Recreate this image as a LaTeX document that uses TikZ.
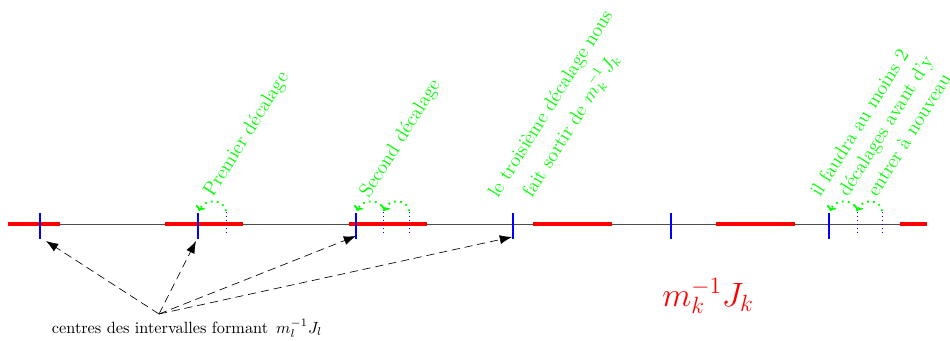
\documentclass[tikz,border=0pt]{standalone}
\usepackage{fontspec}
\usetikzlibrary{arrows.meta}
\begin{document}
\begin{tikzpicture}[x=0.614pt,y=-0.614pt,
  axis/.style={draw=black!70, line width=0.5pt},
  interval/.style={draw=red, line width=2.4pt},
  centre/.style={draw=blue, line width=1.2pt},
  shiftline/.style={draw=blue, dotted, line width=0.5pt},
  shiftarrow/.style={draw=green, line width=1.1pt, dash pattern=on 1.1pt off 2.6pt, -{To[length=3pt,width=6pt]}},
  note/.style={text=green, font=\large, rotate=58, inner sep=0pt, anchor=base west},
  pointer/.style={dash pattern=on 5pt off 3pt, -{Latex[length=7.5pt,width=5.5pt]}}]
\useasboundingbox (0,0) rectangle (950,340);
% axis
\coordinate (L) at (8,224);
\coordinate (R) at (925,224);
\draw[axis] (L) -- (R);
% intervals
\foreach \a/\b in {8/60,165/243,349/427,533/612,716/795,900/927}
  \draw[interval] (\a,224) -- (\b,224);
% centres
\foreach \i/\x in {1/40,2/198,3/356,4/513,5/671,6/829}{
  \coordinate (c\i) at (\x,239);
  \draw[centre] (\x,213) -- (\x,239);
}
% shifted positions
\foreach \x in {226,383,409,857,882}
  \draw[shiftline] (\x,212) -- (\x,233);
% shift arrows
\coordinate (s21) at (226,211);
\coordinate (s20) at (199,211);
\coordinate (s32) at (409,211);
\coordinate (s31) at (384,211);
\coordinate (s30) at (357,211);
\coordinate (s62) at (882,211);
\coordinate (s61) at (857,211);
\coordinate (s60) at (830,211);
\draw[shiftarrow] (s21) .. controls (225,199) and (204,198) .. (s20);
\draw[shiftarrow] (s32) .. controls (408,199) and (389,198) .. (s31);
\draw[shiftarrow] (s31) .. controls (383,199) and (362,198) .. (s30);
\draw[shiftarrow] (s62) .. controls (881,199) and (862,198) .. (s61);
\draw[shiftarrow] (s61) .. controls (856,199) and (835,198) .. (s60);
% notes
\node[note] (n1) at (213,198) {Premier décalage};
\node[note] (n2) at (369,199) {Second décalage};
\node[note] (n3a) at (498,199) {le troisième décalage nous};
\node[note] (n3b) at (532,199) {fait sortir de $m_k^{-1}J_k$};
\node[note] (n4a) at (820,198) {il faudra au moins 2};
\node[note] (n4b) at (848,198) {décalages avant d'y};
\node[note] (n4c) at (877,198) {entrer à nouveau};
% labels
\node[text=red, font=\huge] (big) at (708,296) {$m_k^{-1}J_k$};
\node[anchor=base, inner sep=0pt] (lab) at (187,333) {centres des intervalles formant~\,$m_l^{-1}J_l$};
% pointers
\coordinate (o) at (159,314);
\coordinate (p1) at (46,241);
\coordinate (p2) at (196,241);
\coordinate (p3) at (356,236);
\coordinate (p4) at (512,237);
\foreach \p in {p1,p2,p3,p4}
  \draw[pointer] (o) -- (\p);
\end{tikzpicture}
\end{document}
